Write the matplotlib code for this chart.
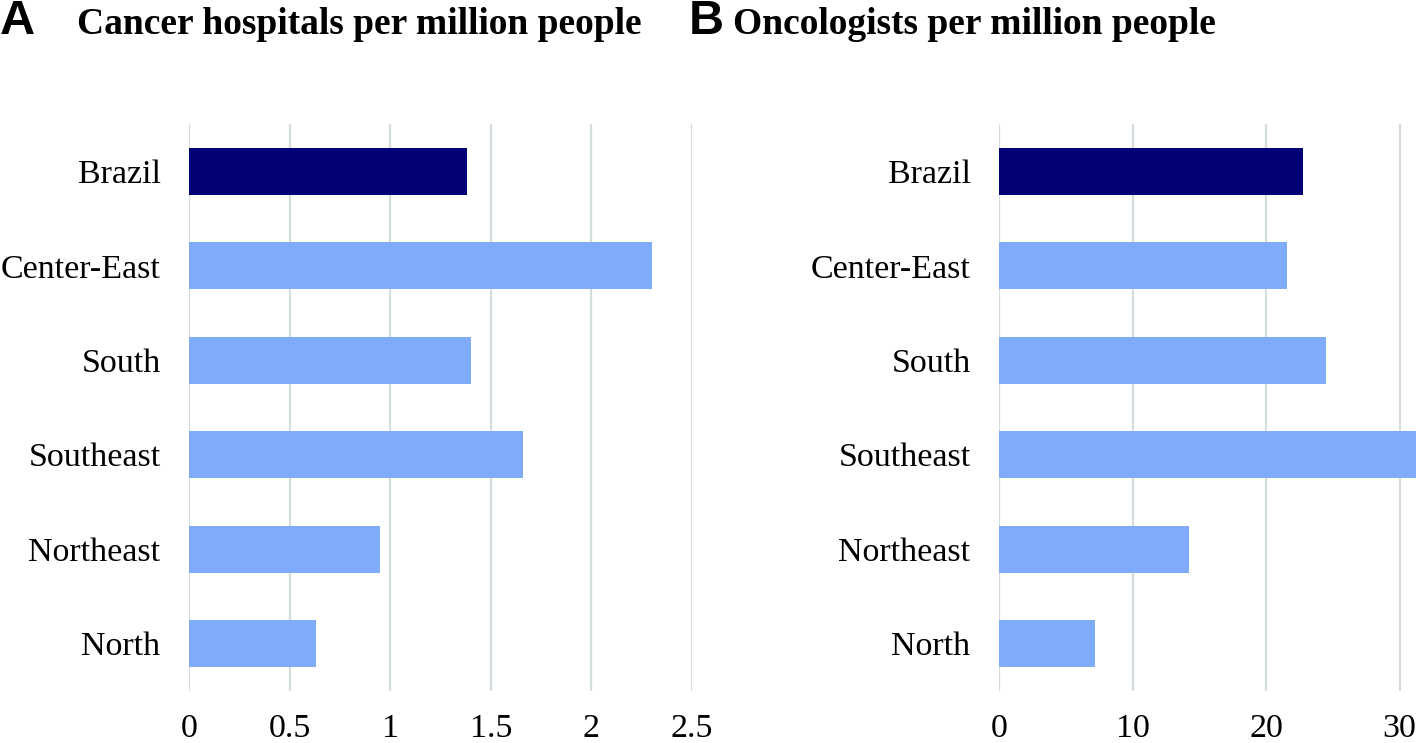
import matplotlib
matplotlib.use("Agg")
import matplotlib.pyplot as plt

regions = ["Brazil", "Center-East", "South", "Southeast", "Northeast", "North"]
hospitals = [1.38, 2.30, 1.40, 1.66, 0.95, 0.63]
oncologists = [22.8, 21.6, 24.5, 31.2, 14.2, 7.2]
hosp_ticks = [0, 0.5, 1, 1.5, 2, 2.5]
hosp_ticklabels = ["0", "0.5", "1", "1.5", "2", "2.5"]
onc_ticks = [0, 10, 20, 30]

NAVY = "#020276"
LIGHT = "#80abf9"
GRID = "#d3dddb"
SERIF = "Liberation Serif"

fig = plt.figure(figsize=(14.17, 7.43), dpi=100)


def panel(rect, values, ticks, labels, xmax):
    ax = fig.add_axes(rect)
    colors = [NAVY] + [LIGHT] * (len(values) - 1)
    y = list(range(len(values)))
    ax.barh(y, values, height=0.5, color=colors, zorder=3)
    ax.set_ylim(len(values) - 0.5, -0.5)
    ax.set_xlim(0, xmax)
    ax.set_xticks(ticks)
    ax.set_xticklabels(labels, fontfamily=SERIF, fontsize=24.5)
    ax.set_yticks(y)
    ax.set_yticklabels(regions, fontfamily=SERIF, fontsize=24.5)
    ax.tick_params(axis="x", length=0, pad=16)
    ax.tick_params(axis="y", length=0, pad=20.5)
    for t in ticks:
        ax.axvline(t, color=GRID, lw=1.6, zorder=1)
    for s in ax.spines.values():
        s.set_visible(False)
    return ax


panel([0.1334, 0.0700, 0.355, 0.7631], hospitals, hosp_ticks, hosp_ticklabels, 2.5)
panel([0.7050, 0.0700, 0.2950, 0.7631], oncologists, onc_ticks,
      [str(t) for t in onc_ticks], 31.3)

fig.text(0.0, 0.954, "A", fontfamily="Liberation Sans", fontweight="bold",
         fontsize=35, va="baseline")
fig.text(0.054, 0.954, "Cancer hospitals per million people", fontfamily=SERIF,
         fontweight="bold", fontsize=27, va="baseline")
fig.text(0.486, 0.954, "B", fontfamily="Liberation Sans", fontweight="bold",
         fontsize=35, va="baseline")
fig.text(0.517, 0.954, "Oncologists per million people", fontfamily=SERIF,
         fontweight="bold", fontsize=27, va="baseline")

fig.savefig("out.png", dpi=100)
